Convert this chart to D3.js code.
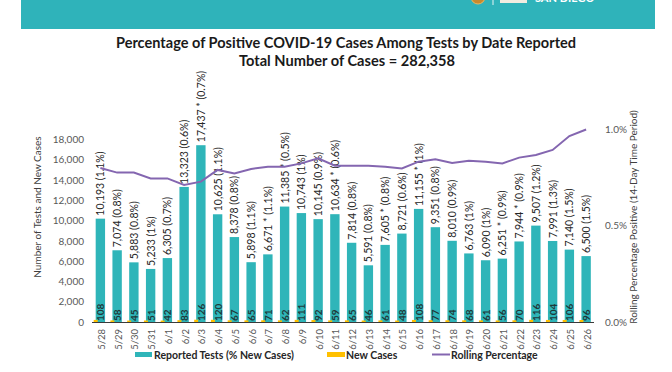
<!DOCTYPE html>
<html>
<head>
<meta charset="utf-8">
<script src="https://cdn.jsdelivr.net/npm/d3@7"></script>
<style>
  html, body { margin: 0; padding: 0; background: #fff; }
  svg { display: block; font-family: Lato, "Open Sans", sans-serif; }
</style>
</head>
<body>
<svg id="chart" width="672" height="372"></svg>
<script>
const dates = ["5/28","5/29","5/30","5/31","6/1","6/2","6/3","6/4","6/5","6/6","6/7","6/8","6/9","6/10","6/11","6/12","6/13","6/14","6/15","6/16","6/17","6/18","6/19","6/20","6/21","6/22","6/23","6/24","6/25","6/26"];
const reportedTests = [10193,7074,5883,5233,6305,13323,17437,10625,8378,5898,6671,11385,10743,10145,10634,7814,5591,7605,8721,11155,9351,8010,6763,6090,6251,7944,9507,7991,7140,6500];
const testLabels = ["10,193 (1.1%)","7,074 (0.8%)","5,883 (0.8%)","5,233 (1%)","6,305 (0.7%)","13,323 (0.6%)","17,437 * (0.7%)","10,625 (1.1%)","8,378 (0.8%)","5,898 (1.1%)","6,671 * (1.1%)","11,385 * (0.5%)","10,743 (1%)","10,145 (0.9%)","10,634 * (0.6%)","7,814 (0.8%)","5,591 (0.8%)","7,605 * (0.8%)","8,721 (0.6%)","11,155 * (1%)","9,351 (0.8%)","8,010 (0.9%)","6,763 (1%)","6,090 (1%)","6,251 * (0.9%)","7,944 * (0.9%)","9,507 (1.2%)","7,991 (1.3%)","7,140 (1.5%)","6,500 (1.5%)"];
const newCases = [108,58,45,51,42,83,126,120,67,65,71,62,111,92,59,65,46,61,48,108,77,74,68,61,56,70,116,104,106,96];
const rollingPct = [0.80,0.776,0.776,0.746,0.746,0.712,0.729,0.79,0.772,0.795,0.807,0.807,0.824,0.85,0.812,0.812,0.812,0.807,0.798,0.833,0.845,0.826,0.838,0.833,0.824,0.854,0.868,0.894,0.966,1.0];
const leftTicks = [0,2000,4000,6000,8000,10000,12000,14000,16000,18000];
const rightTicks = [0,0.5,1.0];

const svg = d3.select("#chart");
const teal = "#2fb5b9", orange = "#ffc000", purple = "#8466b0";

// header banner
svg.append("rect").attr("x",21).attr("y",0).attr("width",634).attr("height",29).attr("fill","#2fb3ba");
svg.append("circle").attr("cx",478).attr("cy",-3).attr("r",7).attr("fill","#c8892e").attr("stroke","#e8b860").attr("stroke-width",1);
svg.append("line").attr("x1",493).attr("x2",493).attr("y1",0).attr("y2",5).attr("stroke","#e6f4f5").attr("stroke-width",1);
svg.append("rect").attr("x",500).attr("y",0).attr("width",27).attr("height",3).attr("fill","#f1ece0");
svg.append("text").attr("x",535).attr("y",2).attr("fill","#ffffff").attr("font-size",11).attr("font-weight",700).text("SAN DIEGO");

// titles
svg.append("text").attr("x",346).attr("y",48).attr("text-anchor","middle").attr("font-size",15).attr("font-weight",700).attr("fill","#1a1a1a")
  .attr("textLength",460).attr("lengthAdjust","spacingAndGlyphs")
  .text("Percentage of Positive COVID-19 Cases Among Tests by Date Reported");
svg.append("text").attr("x",347).attr("y",66).attr("text-anchor","middle").attr("font-size",15).attr("font-weight",700).attr("fill","#1a1a1a")
  .attr("textLength",216).attr("lengthAdjust","spacingAndGlyphs")
  .text("Total Number of Cases = 282,358");

const x = d3.scaleBand().domain(dates).range([92, 594.5]).paddingInner(0.44).paddingOuter(0.22);
const y = d3.scaleLinear().domain([0,18000]).range([322,139.5]);
const yr = d3.scaleLinear().domain([0,1.0]).range([322,129.5]);

// left axis
const gl = svg.append("g").attr("transform","translate(84,0)")
  .call(d3.axisLeft(y).tickValues(leftTicks).tickSize(0).tickPadding(0).tickFormat(d3.format(",")));
gl.select(".domain").remove();
gl.selectAll("text").attr("fill","#595959").attr("font-size",10).attr("font-family","Lato, sans-serif");

// right axis
const gr = svg.append("g").attr("transform","translate(605,0)")
  .call(d3.axisRight(yr).tickValues(rightTicks).tickSize(0).tickPadding(0).tickFormat(d => d.toFixed(1) + "%"));
gr.select(".domain").remove();
gr.selectAll("text").attr("fill","#595959").attr("font-size",10).attr("font-family","Lato, sans-serif");

// axis titles
svg.append("text").attr("transform","translate(41,207) rotate(-90)").attr("text-anchor","middle")
  .attr("font-size",10).attr("fill","#404040").text("Number of Tests and New Cases");
svg.append("text").attr("transform","translate(637,217) rotate(-90)").attr("text-anchor","middle")
  .attr("font-size",10).attr("fill","#404040").text("Rolling Percentage Positive (14-Day Time Period)");

// bars
svg.append("g").selectAll("rect").data(dates).join("rect")
  .attr("x", d => x(d)).attr("width", x.bandwidth())
  .attr("y", (d,i) => y(reportedTests[i])).attr("height", (d,i) => y(0) - y(reportedTests[i]))
  .attr("fill", teal);
svg.append("g").selectAll("rect").data(dates).join("rect")
  .attr("x", d => x(d) - 2).attr("width", 4)
  .attr("y", (d,i) => y(newCases[i]) - 1).attr("height", (d,i) => y(0) - y(newCases[i]) + 1)
  .attr("fill", orange);

// axis line
svg.append("line").attr("x1",92).attr("x2",594).attr("y1",322.5).attr("y2",322.5).attr("stroke","#3a3a3a").attr("stroke-width",1.2);

// bar value labels
svg.append("g").selectAll("text").data(dates).join("text")
  .attr("transform", (d,i) => `translate(${x(d)+x.bandwidth()/2},${y(reportedTests[i]) - 3}) rotate(-90)`)
  .attr("dominant-baseline","central").attr("font-size",10.5).attr("fill","#262626")
  .text((d,i) => testLabels[i]);

// new cases labels
svg.append("g").selectAll("text").data(dates).join("text")
  .attr("transform", (d,i) => `translate(${x(d)+x.bandwidth()/2},${y(0) - 1}) rotate(-90)`)
  .attr("dominant-baseline","central").attr("font-size",10).attr("font-weight",700).attr("fill","#1f3a3a")
  .text((d,i) => newCases[i]);

// rolling line
const line = d3.line().x((d,i) => x(dates[i]) + x.bandwidth()/2).y(d => yr(d));
svg.append("path").datum(rollingPct).attr("d", line).attr("fill","none").attr("stroke",purple).attr("stroke-width",2);

// x labels
svg.append("g").selectAll("text").data(dates).join("text")
  .attr("transform", d => `translate(${x(d)+x.bandwidth()/2+1},329) rotate(-90)`)
  .attr("text-anchor","end").attr("dominant-baseline","central")
  .attr("font-size",9.5).attr("fill","#595959").text(d => d);

// legend
const leg = svg.append("g").attr("font-size",10.5).attr("font-weight",700).attr("fill","#262626");
leg.append("rect").attr("x",135).attr("y",352).attr("width",17).attr("height",5).attr("fill",teal);
leg.append("text").attr("x",154).attr("y",359).text("Reported Tests (% New Cases)");
leg.append("rect").attr("x",327).attr("y",352).attr("width",18).attr("height",5).attr("fill",orange);
leg.append("text").attr("x",346).attr("y",359).text("New Cases");
leg.append("line").attr("x1",432).attr("x2",450).attr("y1",354.5).attr("y2",354.5).attr("stroke",purple).attr("stroke-width",2);
leg.append("text").attr("x",451).attr("y",359).text("Rolling Percentage");
</script>
</body>
</html>
